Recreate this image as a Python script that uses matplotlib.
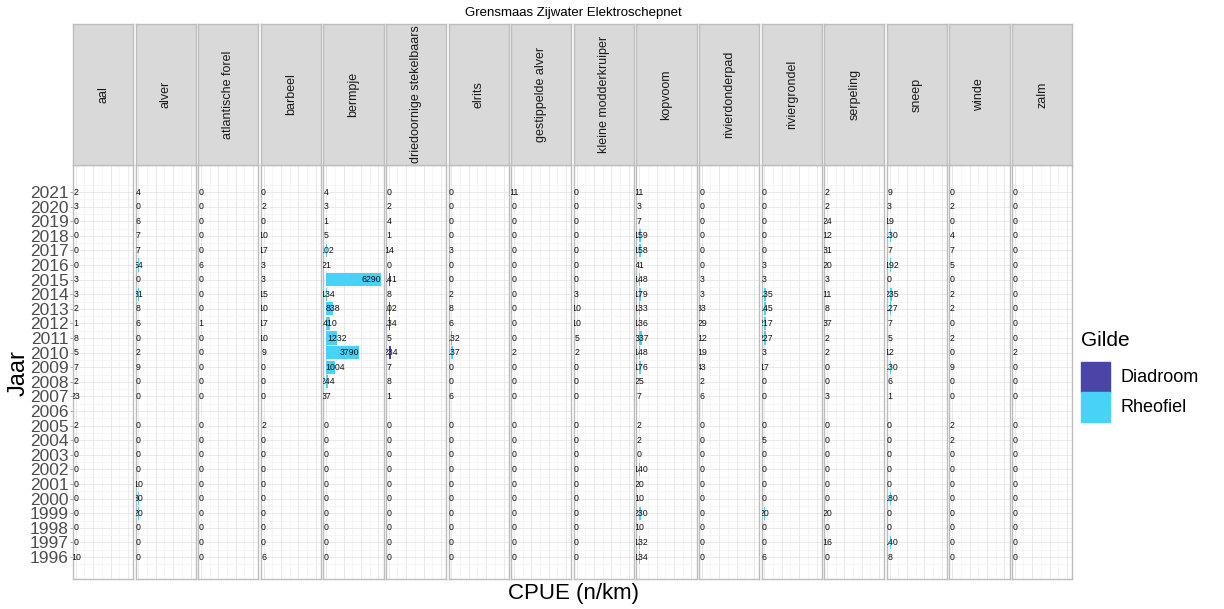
import numpy as np
import matplotlib.pyplot as plt
from matplotlib.patches import Rectangle

plt.rcParams['font.family'] = ['Liberation Sans', 'DejaVu Sans']

# years from top to bottom; 2006 has no catch data
years = [2021, 2020, 2019, 2018, 2017, 2016, 2015, 2014, 2013, 2012, 2011, 2010,
         2009, 2008, 2007, 2006, 2005, 2004, 2003, 2002, 2001, 2000, 1999, 1998,
         1997, 1996]
NA = np.nan

# CPUE (n/km) per species, same order as years
aal = [2, 3, 0, 0, 0, 0, 3, 3, 2, 1, 8, 5, 7, 2, 23, NA, 2, 0, 0, 0, 0, 0, 0, 0, 0, 10]
alver = [4, 0, 6, 7, 7, 54, 0, 31, 8, 6, 0, 2, 9, 0, 0, NA, 0, 0, 0, 0, 10, 30, 20, 0, 0, 0]
atlantische_forel = [0, 0, 0, 0, 0, 6, 0, 0, 0, 1, 0, 0, 0, 0, 0, NA, 0, 0, 0, 0, 0, 0, 0, 0, 0, 0]
barbeel = [0, 2, 0, 10, 17, 3, 3, 15, 10, 17, 10, 9, 0, 0, 0, NA, 2, 0, 0, 0, 0, 0, 0, 0, 0, 6]
bermpje = [4, 3, 1, 5, 102, 21, 6290, 134, 838, 410, 1232, 3790, 1004, 244, 37, NA,
           0, 0, 0, 0, 0, 0, 0, 0, 0, 0]
driedoornige_stekelbaars = [0, 2, 4, 1, 14, 0, 141, 8, 102, 134, 5, 234, 7, 8, 1, NA,
                            0, 0, 0, 0, 0, 0, 0, 0, 0, 0]
elrits = [0, 0, 0, 0, 3, 0, 0, 2, 8, 6, 132, 137, 0, 0, 6, NA, 0, 0, 0, 0, 0, 0, 0, 0, 0, 0]
gestippelde_alver = [11, 0, 0, 0, 0, 0, 0, 0, 0, 0, 0, 2, 0, 0, 0, NA, 0, 0, 0, 0, 0, 0, 0, 0, 0, 0]
kleine_modderkruiper = [0, 0, 0, 0, 0, 0, 0, 3, 10, 10, 5, 2, 0, 0, 0, NA, 0, 0, 0, 0, 0, 0, 0, 0, 0, 0]
kopvoom = [11, 3, 7, 159, 158, 41, 148, 179, 133, 136, 337, 148, 176, 25, 7, NA,
           2, 2, 0, 140, 20, 10, 230, 10, 132, 134]
rivierdonderpad = [0, 0, 0, 0, 0, 0, 3, 3, 33, 29, 12, 19, 43, 2, 6, NA, 0, 0, 0, 0, 0, 0, 0, 0, 0, 0]
riviergrondel = [0, 0, 0, 0, 0, 3, 3, 135, 145, 217, 227, 3, 17, 0, 0, NA, 0, 5, 0, 0, 0, 0, 20, 0, 0, 6]
serpeling = [2, 2, 24, 12, 31, 20, 3, 11, 8, 37, 2, 2, 0, 0, 3, NA, 0, 0, 0, 0, 0, 0, 20, 0, 16, 0]
sneep = [9, 3, 19, 130, 7, 192, 0, 235, 127, 7, 5, 12, 130, 6, 1, NA, 0, 0, 0, 0, 0, 180, 0, 0, 140, 8]
winde = [0, 2, 0, 4, 7, 5, 0, 2, 2, 0, 2, 0, 9, 0, 0, NA, 2, 2, 0, 0, 0, 0, 0, 0, 0, 0]
zalm = [0, 0, 0, 0, 0, 0, 0, 0, 0, 0, 0, 2, 0, 0, 0, NA, 0, 0, 0, 0, 0, 0, 0, 0, 0, 0]

species = ['aal', 'alver', 'atlantische forel', 'barbeel', 'bermpje',
           'driedoornige stekelbaars', 'elrits', 'gestippelde alver',
           'kleine modderkruiper', 'kopvoom', 'rivierdonderpad', 'riviergrondel',
           'serpeling', 'sneep', 'winde', 'zalm']
cpue = [aal, alver, atlantische_forel, barbeel, bermpje, driedoornige_stekelbaars,
        elrits, gestippelde_alver, kleine_modderkruiper, kopvoom, rivierdonderpad,
        riviergrondel, serpeling, sneep, winde, zalm]
gilde = ['Diadroom', 'Rheofiel', 'Diadroom', 'Rheofiel', 'Rheofiel', 'Diadroom',
         'Rheofiel', 'Rheofiel', 'Rheofiel', 'Rheofiel', 'Rheofiel', 'Rheofiel',
         'Rheofiel', 'Rheofiel', 'Rheofiel', 'Diadroom']
gilde_colors = {'Diadroom': '#4B45A8', 'Rheofiel': '#48D2F8'}

W, H = 1224, 609
fig = plt.figure(figsize=(W / 100, H / 100), dpi=100)


def fx(px):
    return px / W


def fy(px):
    return 1 - px / H


# pixel layout
left0, step, pw = 73, 62.6, 60.2
strip_top, panel_top, panel_bot = 24, 165, 579

vmax = np.nanmax([np.nanmax(v) for v in cpue])
pad = 0.05 * vmax
xlim = (-pad, vmax + pad)
ylim = (1996 - 1.5, 2021 + 1.85)

for i, (name, vals, g) in enumerate(zip(species, cpue, gilde)):
    x0 = left0 + i * step
    ax = fig.add_axes([fx(x0), fy(panel_bot), pw / W, (panel_bot - panel_top) / H])
    vals = np.array(vals, dtype=float)
    ok = ~np.isnan(vals)
    yrs = np.array(years)[ok]
    v = vals[ok]
    ax.barh(yrs, v, height=0.9, color=gilde_colors[g], zorder=2)
    for yy, val in zip(yrs, v):
        # large values sit right-aligned inside the bar, the rest centred on the bar end
        ha = 'right' if val > vmax / 2 else 'center'
        ax.text(val, yy, f'{int(val)}', ha=ha, va='center', fontsize=6.3,
                color='#111111', zorder=3, clip_on=True)
    ax.set_xlim(xlim)
    ax.set_ylim(ylim)
    ax.set_xticks([0, 2000, 4000, 6000])
    ax.set_xticks([1000, 3000, 5000], minor=True)
    ax.set_yticks(years)
    ax.set_yticks(np.arange(1995.5, 2022, 1.0), minor=True)
    ax.grid(True, which='major', color='#E6E6E6', lw=0.6, zorder=0)
    ax.grid(True, which='minor', color='#F0F0F0', lw=0.4, zorder=0)
    ax.tick_params(axis='x', which='both', length=0, labelbottom=False)
    ax.tick_params(axis='y', which='minor', length=0)
    if i == 0:
        ax.set_yticklabels([str(y) for y in years], fontsize=12.5, color='#4D4D4D')
        ax.tick_params(axis='y', which='major', length=2, width=0.5,
                       color='#8C8C8C', pad=1)
    else:
        ax.tick_params(axis='y', which='major', length=0, labelleft=False)
    for s in ax.spines.values():
        s.set_color('#BDBDBD')
        s.set_linewidth(1.0)

    # facet strip
    sax = fig.add_axes([fx(x0), fy(panel_top), pw / W, (panel_top - strip_top) / H])
    sax.set_xticks([])
    sax.set_yticks([])
    sax.set_facecolor('#D9D9D9')
    for s in sax.spines.values():
        s.set_color('#BDBDBD')
        s.set_linewidth(1.0)
    sax.text(0.5, 0.5, name, rotation=90, ha='center', va='center',
             fontsize=9, color='#1A1A1A', transform=sax.transAxes)

fig.text(fx(573), fy(13), 'Grensmaas Zijwater Elektroschepnet', ha='center',
         va='center', fontsize=9.5, color='black')
fig.text(fx(573), fy(594), 'CPUE (n/km)', ha='center', va='center', fontsize=16,
         color='black')
fig.text(fx(19), fy(373), 'Jaar', ha='center', va='center', rotation=90,
         fontsize=17, color='black')

# legend
fig.text(fx(1081), fy(340), 'Gilde', ha='left', va='center', fontsize=15, color='black')
for k, (lab, col) in enumerate(gilde_colors.items()):
    ytop = 362 + k * 30
    fig.patches.append(Rectangle((fx(1081), fy(ytop + 30)), 29 / W, 30 / H,
                                 transform=fig.transFigure, color=col))
    fig.text(fx(1121), fy(ytop + 16), lab, ha='left', va='center', fontsize=13,
             color='black')

fig.savefig('out.png', dpi=100)
